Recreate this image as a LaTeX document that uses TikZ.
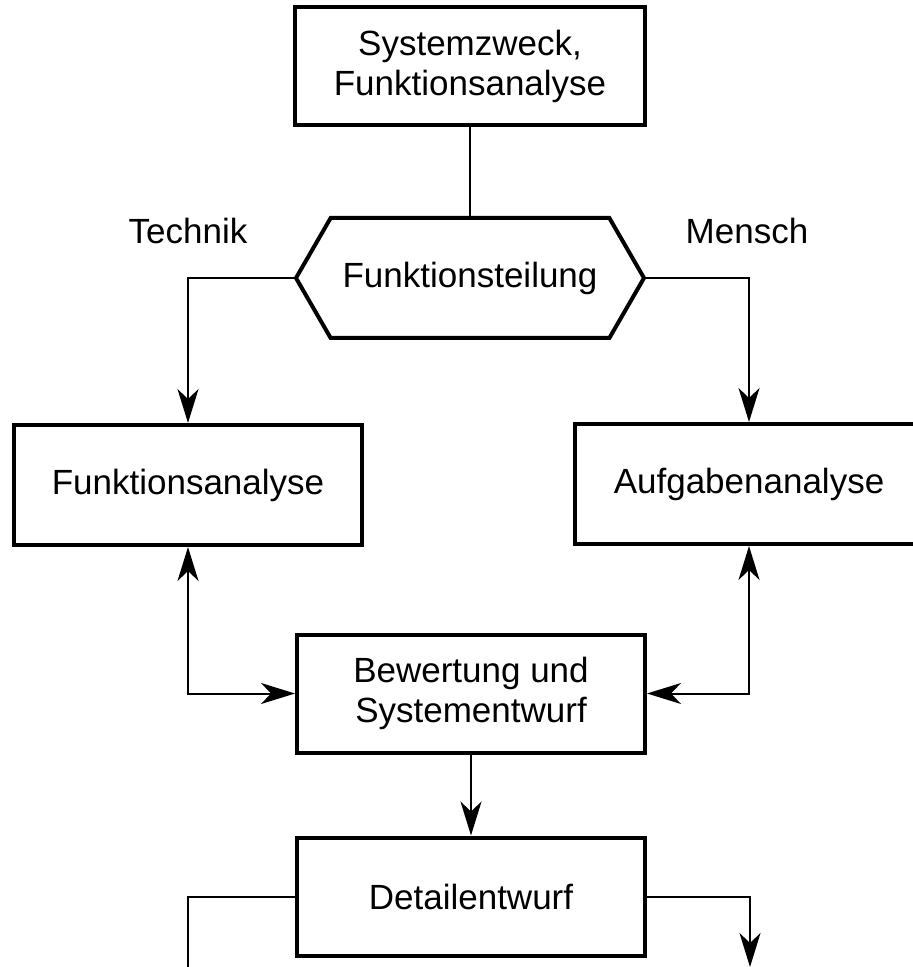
\documentclass[tikz,border=0pt]{standalone}
\usepackage{fontspec}
\setmainfont{Liberation Sans}
\usepackage{tikz}
\usetikzlibrary{arrows.meta,shapes.symbols}
\tikzstyle{flowbox} = [draw=black, line width=2pt, rectangle, align=center,
    minimum width=174pt, minimum height=59pt, inner sep=0pt,
    font=\fontsize{17.5}{20}\selectfont]
\tikzstyle{splitbox} = [draw=black, line width=2pt, shape=signal,
    signal to=west and east, signal pointer angle=120,
    minimum width=174pt, minimum height=60pt, inner sep=0pt,
    font=\fontsize{17.5}{20}\selectfont]
\tikzstyle{sidelabel} = [font=\fontsize{17.5}{20}\selectfont]
\tikzstyle{link} = [line width=1pt, >={Stealth[length=17pt, width=10.5pt, inset=5pt]}]

\begin{document}
\begin{tikzpicture}[x=0.5pt, y=-0.5pt]
    \clip (0,0) rectangle (913,967);
    \node [flowbox, minimum width=175pt] (zweck) at (470,66.5) {Systemzweck,\\Funktionsanalyse};
    \node [splitbox] (teilung) at (470,278) {Funktionsteilung};
    \node [sidelabel] (technik) at (188,231) {Technik};
    \node [sidelabel] (mensch) at (747,231) {Mensch};
    \node [flowbox, minimum height=60pt] (funktion) at (188,485) {Funktionsanalyse};
    \node [flowbox, minimum height=60pt] (aufgabe) at (749,484) {Aufgabenanalyse};
    \node [flowbox] (bewertung) at (471,693.5) {Bewertung und\\Systementwurf};
    \node [flowbox] (detail) at (471,896.5) {Detailentwurf};
    \coordinate (outL) at (188,975);
    \coordinate (outR) at (750,967);

    % Verbindungen
    \draw [link] (zweck.south) -- (teilung.north);
    \draw [link, ->] (teilung.west) -| (funktion.north);
    \draw [link, ->] (teilung.east) -| (aufgabe.north);
    \draw [link, <->] (funktion.south) |- (bewertung.west);
    \draw [link, <->] (aufgabe.south) |- (bewertung.east);
    \draw [link, ->] (bewertung.south) -- (detail.north);
    \draw [link] (detail.west) -| (outL);
    \draw [link, ->] (detail.east) -| (outR);
\end{tikzpicture}
\end{document}
